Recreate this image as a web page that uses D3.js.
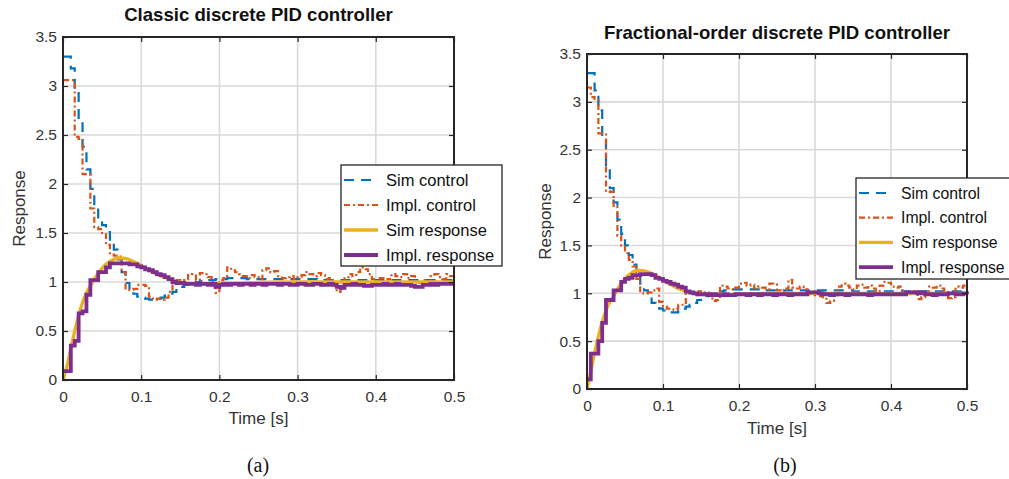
<!DOCTYPE html>
<html>
<head>
<meta charset="utf-8">
<script src="https://cdnjs.cloudflare.com/ajax/libs/d3/7.8.5/d3.min.js"></script>
<style>
  body { margin: 0; background: #fff; }
  text { font-family: "Liberation Sans", Arial, Helvetica, sans-serif; }
</style>
</head>
<body>
<div id="chart"></div>
<script>
// sample instants of the discrete signals (Ts = 5 ms)
const tSample = [0, 0.005, 0.01, 0.015, 0.02, 0.025, 0.03, 0.035, 0.04, 0.045,
  0.05, 0.055, 0.06, 0.065, 0.07, 0.075, 0.08, 0.085, 0.09, 0.095,
  0.1, 0.105, 0.11, 0.115, 0.12, 0.125, 0.13, 0.135, 0.14, 0.145,
  0.15, 0.155, 0.16, 0.165, 0.17, 0.175, 0.18, 0.185, 0.19, 0.195,
  0.2, 0.205, 0.21, 0.215, 0.22, 0.225, 0.23, 0.235, 0.24, 0.245,
  0.25, 0.255, 0.26, 0.265, 0.27, 0.275, 0.28, 0.285, 0.29, 0.295,
  0.3, 0.305, 0.31, 0.315, 0.32, 0.325, 0.33, 0.335, 0.34, 0.345,
  0.35, 0.355, 0.36, 0.365, 0.37, 0.375, 0.38, 0.385, 0.39, 0.395,
  0.4, 0.405, 0.41, 0.415, 0.42, 0.425, 0.43, 0.435, 0.44, 0.445,
  0.45, 0.455, 0.46, 0.465, 0.47, 0.475, 0.48, 0.485, 0.49, 0.495, 0.5]
// time points of the continuous simulated response
const tSmooth = [0, 0.005, 0.01, 0.015, 0.02, 0.025, 0.03, 0.035, 0.04, 0.045, 0.05,
  0.055, 0.06, 0.065, 0.07, 0.075, 0.08, 0.09, 0.1, 0.11, 0.12, 0.13, 0.14,
  0.15, 0.16, 0.18, 0.2, 0.25, 0.3, 0.35, 0.4, 0.45, 0.5]

const xTicks = [0, 0.1, 0.2, 0.3, 0.4, 0.5]
const xTickLabels = ['0', '0.1', '0.2', '0.3', '0.4', '0.5']
const yTicks = [0, 0.5, 1, 1.5, 2, 2.5, 3, 3.5]
const yTickLabels = ['0', '0.5', '1', '1.5', '2', '2.5', '3', '3.5']
const seriesNames = ['Sim control', 'Impl. control', 'Sim response', 'Impl. response']

// (a) classic PID
const simControlA = [3.3, 3.3, 3.18, 2.95, 2.62, 2.38, 2.15, 1.95, 1.78, 1.66,
  1.58, 1.51, 1.42, 1.33, 1.23, 1.1, 0.99, 0.92, 0.88, 0.85,
  0.84, 0.83, 0.82, 0.82, 0.83, 0.84, 0.86, 0.88, 0.9, 0.93,
  0.95, 0.97, 0.98, 0.99, 1.0, 1.01, 1.01, 1.02, 1.02, 1.03,
  1.03, 1.03, 1.04, 1.04, 1.04, 1.04, 1.04, 1.03, 1.03, 1.03,
  1.03, 1.03, 1.03, 1.03, 1.03, 1.03, 1.03, 1.03, 1.03, 1.03,
  1.03, 1.03, 1.03, 1.03, 1.03, 1.02, 1.02, 1.02, 1.02, 1.02,
  1.02, 1.02, 1.02, 1.02, 1.02, 1.02, 1.02, 1.02, 1.02, 1.02,
  1.02, 1.02, 1.02, 1.02, 1.02, 1.02, 1.02, 1.02, 1.02, 1.02,
  1.02, 1.02, 1.02, 1.02, 1.02, 1.02, 1.02, 1.02, 1.02, 1.02, 1.02]
const implControlA = [3.06, 3.06, 3.06, 2.48, 2.46, 2.1, 2.1, 1.75, 1.56, 1.54,
  1.5, 1.38, 1.28, 1.27, 1.26, 1.1, 0.92, 0.92, 0.93, 0.97,
  0.97, 0.96, 0.85, 0.82, 0.83, 0.82, 0.84, 0.9, 0.98, 1.02,
  1.01, 1.03, 1.07, 1.08, 1.02, 1.09, 1.08, 1.05, 1.0, 0.89,
  1.02, 1.04, 1.15, 1.12, 1.1, 1.08, 1.06, 1.04, 1.07, 1.05,
  1.03, 1.12, 1.14, 1.1, 1.11, 1.06, 1.04, 1.05, 1.06, 1.03,
  1.05, 1.07, 1.1, 1.08, 1.06, 1.09, 1.07, 1.03, 1.04, 0.98,
  0.9, 0.93, 1.05, 1.08, 1.06, 1.1, 1.15, 1.13, 1.08, 1.03,
  1.01, 1.04, 1.0, 1.03, 1.08, 1.06, 1.05, 1.08, 1.04, 1.06,
  1.0, 0.99, 1.02, 1.0, 1.06, 1.08, 1.05, 1.03, 1.08, 1.06, 1.06]
const simResponseA = [0, 0.14, 0.32, 0.5, 0.66, 0.79, 0.89, 0.96, 1.03, 1.09, 1.14,
  1.18, 1.21, 1.23, 1.245, 1.245, 1.24, 1.21, 1.17, 1.12, 1.08, 1.045, 1.015,
  0.995, 0.985, 0.98, 0.985, 0.995, 1.0, 1.0, 1.0, 1.0, 1.0]
const implResponseA = [0.09, 0.09, 0.35, 0.4, 0.68, 0.7, 0.87, 1.02, 1.02, 1.1,
  1.1, 1.15, 1.19, 1.19, 1.19, 1.19, 1.19, 1.18, 1.18, 1.16,
  1.15, 1.13, 1.12, 1.1, 1.08, 1.07, 1.05, 1.03, 1.0, 0.99,
  0.99, 0.98, 0.98, 0.98, 0.97, 0.98, 0.98, 0.97, 0.98, 0.95,
  0.97, 0.98, 0.97, 0.98, 0.98, 0.97, 0.98, 0.98, 0.97, 0.98,
  0.98, 0.97, 0.98, 0.98, 0.98, 0.97, 0.98, 0.98, 0.97, 0.97,
  0.98, 0.98, 0.97, 0.97, 0.98, 0.98, 0.97, 0.97, 0.98, 0.97,
  0.95, 0.94, 0.97, 0.97, 0.98, 0.97, 0.97, 0.96, 0.96, 0.97,
  0.97, 0.97, 0.98, 0.97, 0.97, 0.98, 0.97, 0.97, 0.97, 0.96,
  0.95, 0.95, 0.97, 0.97, 0.98, 0.97, 0.98, 0.98, 0.98, 0.98, 0.98]

// (b) fractional-order PID
const simControlB = [3.3, 3.3, 3.12, 2.91, 2.62, 2.3, 2.1, 1.95, 1.77, 1.62,
  1.5, 1.4, 1.3, 1.22, 1.1, 1.03, 0.96, 0.9, 0.86, 0.84,
  0.82, 0.81, 0.8, 0.8, 0.82, 0.84, 0.86, 0.88, 0.9, 0.93,
  0.95, 0.97, 0.99, 1.0, 1.01, 1.02, 1.03, 1.03, 1.04, 1.04,
  1.04, 1.04, 1.04, 1.04, 1.04, 1.04, 1.03, 1.03, 1.03, 1.03,
  1.03, 1.03, 1.03, 1.03, 1.03, 1.03, 1.03, 1.03, 1.03, 1.03,
  1.03, 1.03, 1.03, 1.03, 1.03, 1.03, 1.03, 1.03, 1.03, 1.03,
  1.02, 1.02, 1.02, 1.02, 1.02, 1.02, 1.02, 1.02, 1.02, 1.02,
  1.02, 1.02, 1.02, 1.02, 1.02, 1.02, 1.02, 1.02, 1.02, 1.02,
  1.02, 1.02, 1.02, 1.02, 1.02, 1.02, 1.02, 1.02, 1.02, 1.02, 1.02]
const implControlB = [3.15, 3.05, 3.03, 2.67, 2.67, 2.07, 2.06, 1.9, 1.6, 1.5,
  1.42, 1.35, 1.28, 1.15, 1.0, 1.0, 1.01, 1.03, 1.05, 0.91,
  0.86, 0.84, 0.83, 0.84, 0.88, 0.88, 1.0, 1.0, 0.98, 1.02,
  1.0, 1.01, 0.98, 0.92, 0.93, 1.08, 1.07, 1.05, 1.04, 1.06,
  1.1, 1.11, 1.08, 1.09, 1.05, 1.07, 1.06, 1.04, 1.1, 1.09,
  1.03, 1.02, 1.05, 1.14, 1.06, 1.05, 1.07, 1.04, 0.99, 0.98,
  1.02, 0.97, 0.96, 0.9, 0.92, 0.98, 1.07, 1.1, 1.08, 1.06,
  1.04, 1.08, 1.09, 1.06, 1.08, 1.05, 1.02, 1.08, 1.12, 1.11,
  1.07, 1.06, 1.07, 1.0, 1.01, 0.99, 1.02, 0.94, 0.96, 1.0,
  1.07, 1.06, 1.08, 1.05, 1.03, 0.95, 0.96, 1.07, 1.06, 1.08, 1.05]
const simResponseB = [0, 0.18, 0.38, 0.55, 0.7, 0.82, 0.91, 0.97, 1.04, 1.1, 1.15,
  1.19, 1.22, 1.24, 1.24, 1.235, 1.225, 1.19, 1.14, 1.09, 1.05, 1.02, 1.0,
  0.99, 0.985, 0.985, 0.99, 1.0, 1.0, 1.0, 1.0, 1.0, 1.0]
const implResponseB = [0.1, 0.37, 0.37, 0.5, 0.69, 0.93, 0.93, 1.03, 1.03, 1.12,
  1.15, 1.16, 1.19, 1.19, 1.2, 1.2, 1.2, 1.19, 1.16, 1.15,
  1.13, 1.12, 1.1, 1.09, 1.07, 1.06, 1.02, 1.01, 1.0, 0.99,
  0.99, 0.99, 0.98, 0.99, 0.98, 0.98, 0.99, 0.98, 0.98, 0.99,
  0.99, 0.99, 0.98, 0.99, 0.99, 0.98, 0.99, 0.99, 0.99, 0.98,
  0.99, 0.99, 0.99, 0.98, 0.99, 0.99, 0.99, 0.99, 1.01, 1.01,
  1.01, 1.0, 0.99, 0.99, 0.98, 0.99, 0.99, 0.99, 0.98, 0.99,
  0.99, 0.99, 0.99, 0.99, 0.98, 0.99, 0.99, 0.99, 0.99, 0.99,
  0.99, 0.99, 0.99, 0.99, 1.01, 1.01, 1.01, 1.0, 1.01, 0.99,
  0.99, 0.98, 0.99, 0.99, 0.99, 1.0, 1.0, 0.99, 0.99, 1.0, 0.99]

const colors = ['#0072BD', '#D95319', '#EDB120', '#7E2F8E']
const axisColor = '#262626'

const width = 1009
const height = 479

const svg = d3.select('#chart').append('svg')
  .attr('width', width)
  .attr('height', height)
svg.append('rect').attr('width', width).attr('height', height).attr('fill', 'white')

function drawPanel(p) {
  const xScale = d3.scaleLinear().domain([0, 0.5]).range([p.left, p.right])
  const yScale = d3.scaleLinear().domain([0, 3.5]).range([p.bottom, p.top])
  const g = svg.append('g')

  // grid
  g.append('g').selectAll('line').data(xTicks.slice(1, -1)).join('line')
    .attr('x1', d => xScale(d)).attr('x2', d => xScale(d))
    .attr('y1', p.top).attr('y2', p.bottom)
    .attr('stroke', '#d9d9d9').attr('stroke-width', 1.6)
  g.append('g').selectAll('line').data(yTicks.slice(1, -1)).join('line')
    .attr('y1', d => yScale(d)).attr('y2', d => yScale(d))
    .attr('x1', p.left).attr('x2', p.right)
    .attr('stroke', '#d9d9d9').attr('stroke-width', 1.6)

  // data
  const clipId = 'clip' + p.id
  g.append('clipPath').attr('id', clipId).append('rect')
    .attr('x', p.left).attr('y', p.top - 2)
    .attr('width', p.right - p.left + 2).attr('height', p.bottom - p.top + 4)
  const lines = g.append('g').attr('clip-path', 'url(#' + clipId + ')')

  const stair = d3.line().curve(d3.curveStepAfter)
    .x(d => xScale(d[0])).y(d => yScale(d[1]))
  const smooth = d3.line().curve(d3.curveMonotoneX)
    .x(d => xScale(d[0])).y(d => yScale(d[1]))

  const series = [
    { data: d3.zip(tSample, p.simControl), line: stair, w: 2.2, dash: '10,7' },
    { data: d3.zip(tSample, p.implControl), line: stair, w: 2.2, dash: '6,3,2,3' },
    { data: d3.zip(tSmooth, p.simResponse), line: smooth, w: 3.3, dash: null },
    { data: d3.zip(tSample, p.implResponse), line: stair, w: 3.8, dash: null }
  ]
  series.forEach((s, i) => {
    lines.append('path')
      .datum(s.data)
      .attr('fill', 'none')
      .attr('stroke', colors[i])
      .attr('stroke-width', s.w)
      .attr('stroke-dasharray', s.dash)
      .attr('d', s.line)
  })

  // axes with inward ticks on all sides
  const fmtX = d => xTickLabels[xTicks.indexOf(d)]
  const fmtY = d => yTickLabels[yTicks.indexOf(d)]
  const styleAxis = sel => {
    sel.select('.domain').remove()
    sel.selectAll('line').attr('stroke', axisColor).attr('stroke-width', 1.2)
    sel.selectAll('text').attr('fill', '#333').style('font-size', '15.5px')
      .style('font-family', '"Liberation Sans", Arial, sans-serif')
  }
  g.append('g').attr('transform', 'translate(0,' + p.bottom + ')')
    .call(d3.axisBottom(xScale).tickValues(xTicks).tickFormat(fmtX).tickSize(-5).tickPadding(11))
    .call(styleAxis)
  g.append('g').attr('transform', 'translate(0,' + p.top + ')')
    .call(d3.axisTop(xScale).tickValues(xTicks).tickFormat('').tickSize(-5))
    .call(styleAxis)
  g.append('g').attr('transform', 'translate(' + p.left + ',0)')
    .call(d3.axisLeft(yScale).tickValues(yTicks).tickFormat(fmtY).tickSize(-5).tickPadding(6))
    .call(styleAxis)
  g.append('g').attr('transform', 'translate(' + p.right + ',0)')
    .call(d3.axisRight(yScale).tickValues(yTicks).tickFormat('').tickSize(-5))
    .call(styleAxis)

  g.append('rect')
    .attr('x', p.left).attr('y', p.top)
    .attr('width', p.right - p.left).attr('height', p.bottom - p.top)
    .attr('fill', 'none').attr('stroke', axisColor).attr('stroke-width', 2)

  // labels
  g.append('text')
    .attr('x', (p.left + p.right) / 2).attr('y', p.titleY)
    .attr('text-anchor', 'middle')
    .style('font-size', '18.6px').style('font-weight', 'bold').attr('fill', '#111')
    .text(p.title)
  g.append('text')
    .attr('x', (p.left + p.right) / 2).attr('y', p.xLabelY)
    .attr('text-anchor', 'middle')
    .style('font-size', '17px').attr('fill', '#333')
    .text('Time [s]')
  g.append('text')
    .attr('transform', 'translate(' + p.yLabelX + ',' + (p.top + p.bottom) / 2 + ') rotate(-90)')
    .attr('text-anchor', 'middle')
    .style('font-size', '17px').attr('fill', '#333')
    .text('Response')
  g.append('text')
    .attr('x', p.captionX).attr('y', 472)
    .attr('text-anchor', 'middle')
    .style('font-family', '"Liberation Serif", "Times New Roman", serif')
    .style('font-size', '20px').attr('fill', '#111')
    .text(p.caption)

  // legend
  const lg = g.append('g').attr('transform', 'translate(' + p.legendX + ',' + p.legendY + ')')
  lg.append('rect')
    .attr('width', 161).attr('height', 101)
    .attr('fill', 'white').attr('stroke', axisColor).attr('stroke-width', 1.3)
  seriesNames.forEach((name, i) => {
    const yy = 15 + i * p.legendStep
    lg.append('line')
      .attr('x1', 3).attr('x2', 37).attr('y1', yy).attr('y2', yy)
      .attr('stroke', colors[i])
      .attr('stroke-width', series[i].w)
      .attr('stroke-dasharray', series[i].dash)
    lg.append('text')
      .attr('x', 45).attr('y', yy).attr('dy', '0.35em')
      .style('font-size', p.legendFont).attr('fill', '#111')
      .text(name)
  })
}

drawPanel({
  id: 'a', left: 63, right: 454, top: 37, bottom: 380,
  title: 'Classic discrete PID controller', titleY: 21,
  xLabelY: 424, yLabelX: 25, caption: '(a)', captionX: 258,
  legendX: 341, legendY: 165, legendStep: 25, legendFont: '16.5px',
  simControl: simControlA, implControl: implControlA,
  simResponse: simResponseA, implResponse: implResponseA
})
drawPanel({
  id: 'b', left: 587, right: 967, top: 54, bottom: 389,
  title: 'Fractional-order discrete PID controller', titleY: 39,
  xLabelY: 434, yLabelX: 551, caption: '(b)', captionX: 785,
  legendX: 856, legendY: 178, legendStep: 24.7, legendFont: '15.8px',
  simControl: simControlB, implControl: implControlB,
  simResponse: simResponseB, implResponse: implResponseB
})
</script>
</body>
</html>
